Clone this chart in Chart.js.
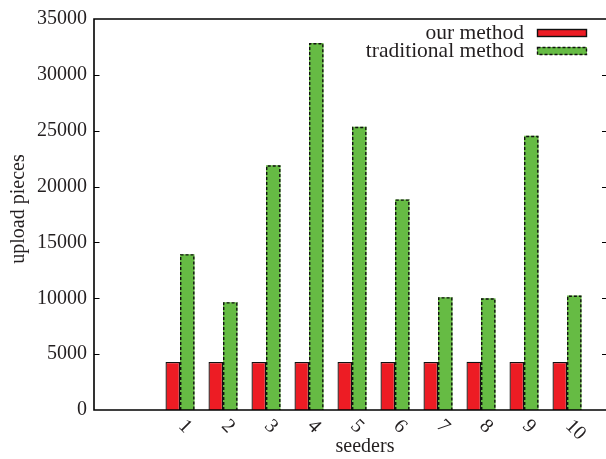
<!DOCTYPE html>
<html>
<head>
<meta charset="utf-8">
<script src="https://cdn.jsdelivr.net/npm/chart.js@4/dist/chart.umd.min.js"></script>
<style>
  html, body { margin: 0; padding: 0; background: #fff; overflow: hidden; }
  #wrap { position: relative; width: 614px; height: 459px; }
</style>
</head>
<body>
<div id="wrap"><canvas id="c"></canvas></div>
<script>
// ---- data ----
const seeders = ['1', '2', '3', '4', '5', '6', '7', '8', '9', '10'];
const ourMethod = [4300, 4300, 4300, 4300, 4300, 4300, 4300, 4320, 4300, 4300];
const traditionalMethod = [13950, 9650, 21900, 32850, 25350, 18850, 10100, 10000, 24550, 10250];
const yTicks = [0, 5000, 10000, 15000, 20000, 25000, 30000, 35000];
const seriesNames = ['our method', 'traditional method'];
const xTitle = 'seeders';
const yTitle = 'upload pieces';

// x range runs from -1 to 11 (two empty slots on the left, one on the right)
const labels = ['', ''].concat(seeders, ['']);
const pad = arr => [null, null].concat(arr, [null]);

const TEXT = '#231f20';
const FONT = '"Liberation Serif", "Times New Roman", serif';
const RED = '#ed1c24';
const GREEN = '#66bb44';

const framePlugin = {
  id: 'frame',
  afterDatasetsDraw(chart) {
    const ctx = chart.ctx;
    const a = chart.chartArea;
    const y = chart.scales.y;
    // dashed outlines of traditional-method bars
    const meta = chart.getDatasetMeta(1);
    ctx.save();
    ctx.strokeStyle = '#111';
    ctx.lineWidth = 1.4;
    ctx.setLineDash([3, 2]);
    meta.data.forEach((el, i) => {
      if (chart.data.datasets[1].data[i] == null) return;
      const p = el.getProps(['x', 'y', 'base', 'width'], true);
      const l = p.x - p.width / 2 + 0.7, r = p.x + p.width / 2 - 0.7;
      ctx.beginPath();
      ctx.moveTo(l, p.base);
      ctx.lineTo(l, p.y + 0.7);
      ctx.lineTo(r, p.y + 0.7);
      ctx.lineTo(r, p.base);
      ctx.stroke();
    });
    ctx.restore();

    // frame
    ctx.save();
    ctx.strokeStyle = '#000';
    ctx.lineWidth = 1.6;
    ctx.beginPath();
    ctx.moveTo(a.right + 5, a.top);
    ctx.lineTo(a.left, a.top);
    ctx.lineTo(a.left, a.bottom);
    ctx.lineTo(a.right + 5, a.bottom);
    ctx.moveTo(a.right, a.top);
    ctx.lineTo(a.right, a.bottom);
    ctx.stroke();
    // inward ticks
    ctx.lineWidth = 1.2;
    ctx.beginPath();
    yTicks.forEach(v => {
      if (v === 0 || v === 35000) return;
      const py = Math.round(y.getPixelForValue(v)) + 0.5;
      ctx.moveTo(a.left, py); ctx.lineTo(a.left + 5.5, py);
      ctx.moveTo(a.right, py); ctx.lineTo(a.right - 8, py);
    });
    ctx.stroke();
    ctx.restore();

    // rotated x tick labels
    const xs = chart.scales.x;
    ctx.save();
    ctx.fillStyle = TEXT;
    ctx.font = '20px ' + FONT;
    ctx.textAlign = 'left';
    ctx.textBaseline = 'middle';
    labels.forEach((lab, i) => {
      if (!lab) return;
      const px = xs.getPixelForTick(i);
      ctx.save();
      ctx.translate(px + 1.5, a.bottom + 13);
      ctx.rotate(Math.PI / 4);
      ctx.fillText(lab, 0, 0);
      ctx.restore();
    });
    // axis titles
    ctx.textAlign = 'center';
    ctx.textBaseline = 'alphabetic';
    ctx.fillText(xTitle, 365, 452);
    ctx.save();
    ctx.translate(24, 209);
    ctx.rotate(-Math.PI / 2);
    ctx.fillText(yTitle, 0, 0);
    ctx.restore();

    // legend
    const ds = chart.data.datasets;
    ctx.font = '21.5px ' + FONT;
    ctx.textAlign = 'right';
    ctx.textBaseline = 'middle';
    const rows = [33, 51];
    ds.forEach((d, i) => {
      const cy = rows[i];
      ctx.fillStyle = TEXT;
      ctx.fillText(d.label, 524, cy);
      ctx.fillStyle = d.backgroundColor;
      ctx.fillRect(537, cy - 4, 50, 8);
      ctx.strokeStyle = '#111';
      ctx.lineWidth = 1.4;
      ctx.setLineDash(i === 1 ? [3, 2] : []);
      ctx.strokeRect(537.5, cy - 3.5, 49, 7);
    });
    ctx.restore();
  }
};

new Chart(document.getElementById('c'), {
  type: 'bar',
  data: {
    labels: labels,
    datasets: [
      { label: seriesNames[0], data: pad(ourMethod), backgroundColor: RED,
        borderColor: '#111', borderWidth: 1.3, borderSkipped: 'bottom' },
      { label: seriesNames[1], data: pad(traditionalMethod), backgroundColor: GREEN,
        borderWidth: 0 }
    ]
  },
  options: {
    responsive: true,
    maintainAspectRatio: false,
    animation: false,
    datasets: { bar: { categoryPercentage: 0.675, barPercentage: 1.0 } },
    layout: { padding: { top: 18, right: 4, left: 0, bottom: 0 } },
    plugins: { legend: { display: false }, tooltip: { enabled: false } },
    scales: {
      x: {
        type: 'category',
        offset: false,
        grid: { display: false },
        border: { display: false },
        ticks: { display: false },
        title: { display: false, text: xTitle },
        afterFit(s) { s.height = 49; }
      },
      y: {
        min: 0, max: 35000,
        grid: { display: false, drawTicks: false },
        border: { display: false },
        afterBuildTicks(s) { s.ticks = yTicks.map(v => ({ value: v })); },
        ticks: {
          padding: 7,
          color: TEXT,
          font: { family: FONT, size: 20 },
          callback: v => String(v)
        },
        title: { display: false, text: yTitle },
        afterFit(s) { s.width = 94; }
      }
    }
  },
  plugins: [framePlugin]
});
</script>
</body>
</html>
